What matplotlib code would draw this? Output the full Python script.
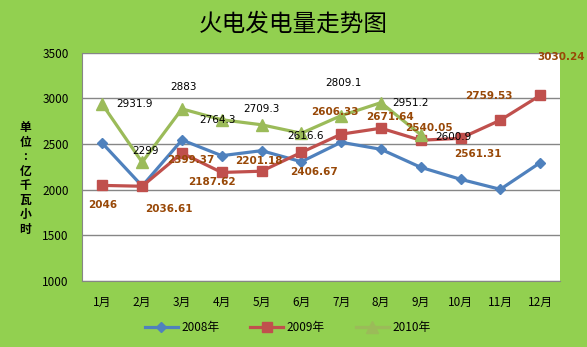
import matplotlib
matplotlib.use("Agg")
import matplotlib.pyplot as plt

plt.rcParams['font.family'] = ['Noto Sans CJK SC', 'DejaVu Sans']

months = ['1月', '2月', '3月', '4月', '5月', '6月', '7月', '8月', '9月', '10月', '11月', '12月']
y2008 = [2507, 2039, 2543, 2371, 2426, 2305, 2518, 2441, 2244, 2113, 2003, 2294]
y2009 = [2046, 2036.61, 2399.37, 2187.62, 2201.18, 2406.67, 2606.33, 2671.64, 2540.05, 2561.31, 2759.53, 3030.24]
y2010 = [2931.9, 2299, 2883, 2764.3, 2709.3, 2616.6, 2809.1, 2951.2, 2600.9]

# label offsets in pixels (dx, dy), picked by eye
off2009 = [(0, -20), (27, -23), (9, -7), (-10, -10), (-3, 10), (13, -20),
           (-6, 22), (9, 11), (8, 12), (17, -16), (-11, 24), (21, 38)]
off2010 = [(32, 0), (3, 11), (2, 22), (-4, 0), (0, 16), (4, -3), (2, 33), (30, 0), (33, -2)]

bg = '#92D050'
fig = plt.figure(figsize=(5.87, 3.47), dpi=100, facecolor=bg)
ax = fig.add_axes([0.1405, 0.1902, 0.8135, 0.6585])
ax.set_facecolor('white')

x = list(range(12))
ax.plot(x, y2008, color='#4F81BD', lw=2.3, marker='D', ms=5.5, label='2008年', zorder=3)
ax.plot(x, y2009, color='#C0504D', lw=2.3, marker='s', ms=7, label='2009年', zorder=3)
ax.plot(x[:len(y2010)], y2010, color='#9BBB59', lw=2.3, marker='^', ms=8, label='2010年', zorder=3)

for i, v in enumerate(y2009):
    ax.annotate('%g' % v, (i, v), xytext=off2009[i], textcoords='offset pixels',
                ha='center', va='center', fontsize=7.5, fontweight='bold',
                color='#984807', family=['DejaVu Sans'], annotation_clip=False, zorder=4)
for i, v in enumerate(y2010):
    ax.annotate('%g' % v, (i, v), xytext=off2010[i], textcoords='offset pixels',
                ha='center', va='center', fontsize=7.5, color='black',
                family=['DejaVu Sans'], annotation_clip=False, zorder=4)

ax.set_xlim(-0.5, 11.5)
ax.set_ylim(1000, 3500)
ax.set_yticks([1000, 1500, 2000, 2500, 3000, 3500])
ax.set_xticks(x)
ax.set_xticklabels(months)
ax.tick_params(length=0, labelsize=8.5)
ax.tick_params(axis='x', pad=11)
ax.tick_params(axis='y', pad=10)
ax.yaxis.grid(True, color='#868686', lw=1)
ax.set_axisbelow(True)
for s in ['top', 'right']:
    ax.spines[s].set_visible(False)
for s in ['left', 'bottom']:
    ax.spines[s].set_color('#868686')

fig.text(0.5, 0.93, '火电发电量走势图', ha='center', va='center', fontsize=17)
fig.text(0.043, 0.485, '单\n位\n:\n亿\n千\n瓦\n小\n时', ha='center', va='center',
         fontsize=8.5, fontweight='bold', linespacing=1.15)

fig.legend(loc='center', bbox_to_anchor=(0.49, 0.057), ncol=3, frameon=False,
           fontsize=8.5, handlelength=2.8, columnspacing=2.6, handletextpad=0.3)

fig.savefig('out.png', dpi=100, facecolor=bg)
